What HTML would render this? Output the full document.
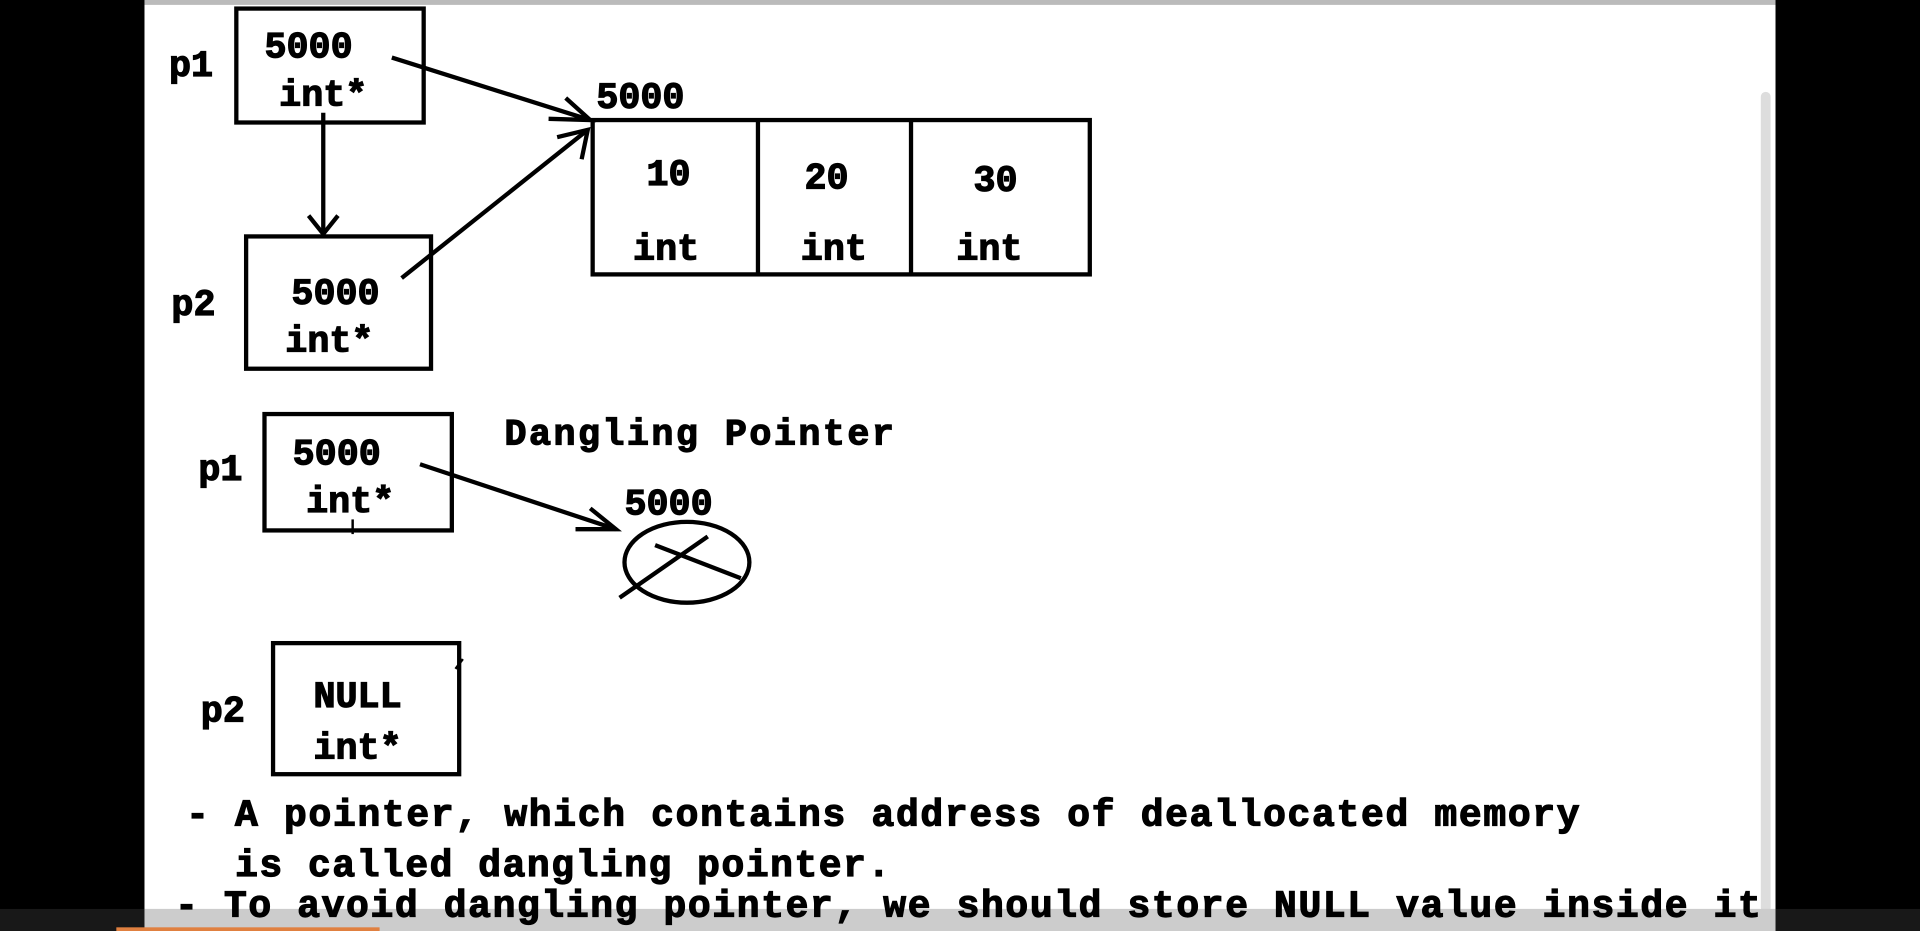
<!DOCTYPE html>
<html><head><style>html,body{margin:0;padding:0;background:#000;overflow:hidden}svg{display:block}</style></head>
<body>
<svg width="1920" height="931" viewBox="0 0 1568 760" preserveAspectRatio="none" xmlns="http://www.w3.org/2000/svg">
<rect x="0" y="0" width="1568" height="760" fill="#000"/>
<rect x="118" y="0" width="1332" height="760" fill="#fff"/>
<rect x="118" y="0" width="1332" height="4" fill="#bbb"/>
<rect x="1438" y="75" width="8" height="670" rx="4" fill="#ddd"/>
<g fill="none" stroke="#000" stroke-width="3.5">
<rect x="193" y="7" width="153" height="93"/>
<rect x="201" y="193" width="151" height="108"/>
<rect x="484" y="98" width="406" height="126"/>
<line x1="619" y1="98" x2="619" y2="224"/>
<line x1="744" y1="98" x2="744" y2="224"/>
<rect x="216" y="338" width="153" height="95"/>
<rect x="223" y="525" width="152" height="107"/>
<line x1="320" y1="47" x2="482" y2="98"/>
<polyline points="448,97 482,98 462,80"/>
<line x1="264" y1="92" x2="264" y2="190"/>
<polyline points="252,176 264,191 276,176"/>
<line x1="328" y1="227" x2="480" y2="106"/>
<polyline points="455,112 480,106 475,130"/>
<line x1="343" y1="379" x2="503" y2="432"/>
<polyline points="470,432 503,432 482,415"/>
<ellipse cx="561" cy="459" rx="51" ry="33"/>
<line x1="506" y1="488" x2="578" y2="438"/>
<line x1="535" y1="445" x2="605" y2="472"/>
<line x1="288" y1="424" x2="288" y2="436" stroke-width="2"/>
<line x1="372" y1="546" x2="378" y2="538" stroke-width="2"/>
</g>
<g font-family="Liberation Mono, monospace" font-weight="bold" font-size="30" fill="#000" stroke="#000" stroke-width="1">
<text x="138" y="62">p1</text>
<text x="216" y="47">5000</text>
<text x="228" y="86">int*</text>
<text x="140" y="257">p2</text>
<text x="238" y="248">5000</text>
<text x="233" y="287">int*</text>
<text x="487" y="88">5000</text>
<text x="528" y="151">10</text>
<text x="657" y="154">20</text>
<text x="795" y="156">30</text>
<text x="517" y="212">int</text>
<text x="654" y="212">int</text>
<text x="781" y="212">int</text>
<text x="162" y="392">p1</text>
<text x="239" y="379">5000</text>
<text x="250" y="418">int*</text>
<text x="412" y="363" textLength="318">Dangling Pointer</text>
<text x="510" y="420">5000</text>
<text x="164" y="589">p2</text>
<text x="256" y="577">NULL</text>
<text x="256" y="619">int*</text>
<text x="152" y="674" textLength="1138" font-size="31">- A pointer, which contains address of deallocated memory</text>
<text x="192" y="715" textLength="535" font-size="31">is called dangling pointer.</text>
</g>
<rect x="0" y="742" width="1568" height="18" fill="#444" opacity="0.35"/>
<rect x="118" y="742" width="1332" height="18" fill="#ccc"/>
<text x="143" y="748" font-family="Liberation Mono, monospace" font-weight="bold" font-size="31" textLength="1295" fill="#000" stroke="#000" stroke-width="1">- To avoid dangling pointer, we should store NULL value inside it</text>
<rect x="95" y="757" width="215" height="3" fill="#e08040"/>
</svg>
</body></html>
